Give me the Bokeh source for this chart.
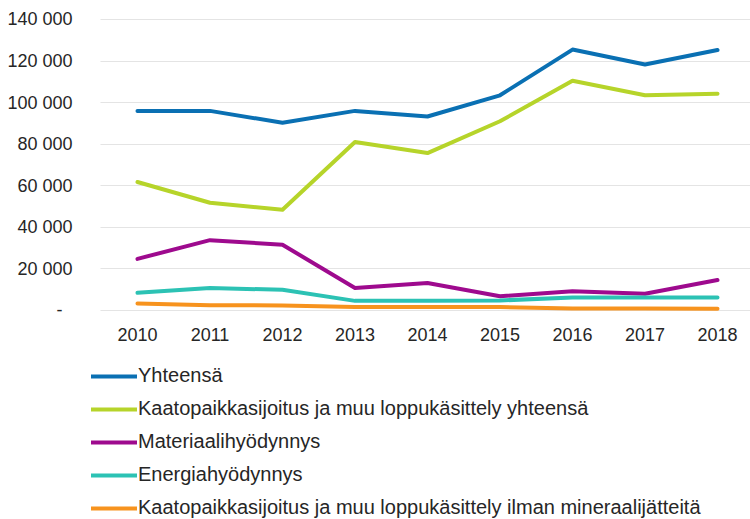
from bokeh.plotting import figure
from bokeh.models import Legend, LegendItem, FixedTicker, Range1d
from bokeh.layouts import column
from bokeh.embed import file_html
from bokeh.resources import INLINE

years = [2010, 2011, 2012, 2013, 2014, 2015, 2016, 2017, 2018]
yhteensa = [96000, 96000, 90300, 96000, 93300, 103500, 125500, 118300, 125300]
kaatopaikka_yht = [61800, 51800, 48400, 81000, 75700, 91000, 110500, 103500, 104300]
materiaali = [24800, 33800, 31600, 10800, 13200, 6800, 9200, 8000, 14600]
energia = [8500, 10800, 9900, 4600, 4600, 4800, 6200, 6200, 6200]
kaatopaikka_ilman = [3300, 2500, 2400, 1700, 1700, 1600, 900, 900, 800]

series_names = [
    "Yhteensä",
    "Kaatopaikkasijoitus ja muu loppukäsittely yhteensä",
    "Materiaalihyödynnys",
    "Energiahyödynnys",
    "Kaatopaikkasijoitus ja muu loppukäsittely ilman mineraalijätteitä",
]
series_values = [yhteensa, kaatopaikka_yht, materiaali, energia, kaatopaikka_ilman]
colors = ["#0a70b3", "#b6d42a", "#9e0a8e", "#2cc2b4", "#f7931e"]

y_ticks = [0, 20000, 40000, 60000, 80000, 100000, 120000, 140000]
y_labels = ["-\u00a0\u00a0", "20 000", "40 000", "60 000", "80 000", "100 000", "120 000", "140 000"]

FONT = "Liberation Sans"
FS = "18px"
LFS = "20px"
TXT = "#262626"

xr = Range1d(2009.49, 2018.455)
yr = Range1d(-1000, 144300)

p = figure(width=750, height=350, output_backend="svg", toolbar_location=None,
           x_range=xr, y_range=yr,
           min_border_left=100, min_border_right=0, min_border_top=10, min_border_bottom=38)
p.outline_line_color = None
p.background_fill_color = "white"
p.border_fill_color = "white"

p.xgrid.grid_line_color = None
p.ygrid.grid_line_color = "#c8c8c8"
p.ygrid.grid_line_dash = "1 1"
p.ygrid.grid_line_width = 1

p.yaxis.ticker = FixedTicker(ticks=y_ticks)
p.yaxis.major_label_overrides = {t: l for t, l in zip(y_ticks, y_labels)}
p.xaxis.ticker = FixedTicker(ticks=years)
p.xaxis.major_label_overrides = {y: str(y) for y in years}

for ax in (p.xaxis[0], p.yaxis[0]):
    ax.axis_line_color = None
    ax.major_tick_line_color = None
    ax.minor_tick_line_color = None
    ax.major_label_text_font = FONT
    ax.major_label_text_font_size = FS
    ax.major_label_text_color = TXT
p.yaxis.major_label_standoff = 22
p.xaxis.major_label_standoff = 9

# legend-only figure below
q = figure(width=750, height=169, output_backend="svg", toolbar_location=None,
           x_range=xr, y_range=yr, x_axis_location=None, y_axis_location=None,
           min_border_left=0, min_border_right=0, min_border_top=0, min_border_bottom=0)
q.outline_line_color = None
q.grid.visible = False
q.background_fill_color = "white"
q.border_fill_color = "white"

legend_x = 91
try:
    q.frame_align = False
    p.frame_align = False
except Exception:
    legend_x = -9

items = []
for name, vals, col in zip(series_names, series_values, colors):
    p.line(years, vals, line_color=col, line_width=4, line_join="round", line_cap="round")
    r = q.line(years, vals, line_color=col, line_width=4, line_cap="round", visible=False)
    items.append(LegendItem(label=name, renderers=[r]))

legend = Legend(items=items, location=(legend_x, 0), orientation="vertical",
                glyph_width=46, glyph_height=20, label_height=20, label_standoff=1, spacing=10,
                padding=0, margin=0, border_line_color=None, background_fill_alpha=0,
                label_text_font=FONT, label_text_font_size=LFS, label_text_color=TXT)
q.add_layout(legend, "center")

layout = column(p, q, spacing=0)
open("out.html", "w").write(file_html(layout, INLINE))
